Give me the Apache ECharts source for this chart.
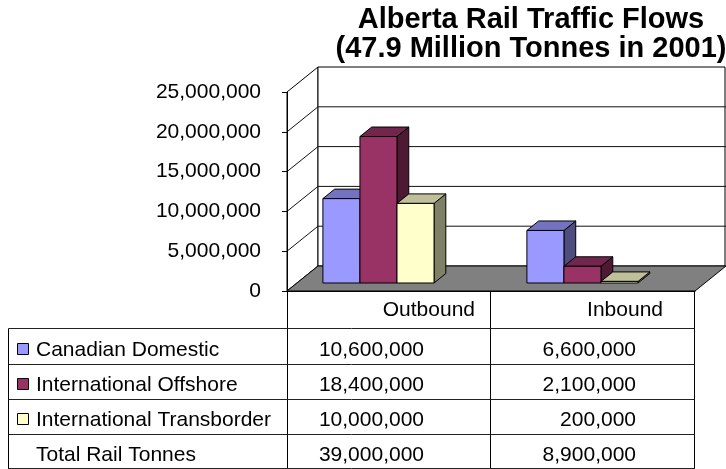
<!DOCTYPE html>
<html>
<head>
<meta charset="utf-8">
<script src="https://cdn.jsdelivr.net/npm/echarts@6/dist/echarts.min.js"></script>
<style>
  html, body { margin: 0; padding: 0; background: #fff; }
  #chart { width: 726px; height: 469px; }
</style>
</head>
<body>
<div id="chart"></div>
<script>
// Values
const categories = ['Outbound', 'Inbound']
const seriesNames = ['Canadian Domestic', 'International Offshore', 'International Transborder']
const canadianDomestic = [10600000, 6600000]
const internationalOffshore = [18400000, 2100000]
const internationalTransborder = [10000000, 200000]
const totalLabel = 'Total Rail Tonnes'
const totalRailTonnes = [39000000, 8900000]
const yMax = 25000000
const yInterval = 5000000

const seriesValues = [canadianDomestic, internationalOffshore, internationalTransborder]

// front / top / side colour of each series
const palette = [
  ['#9999FF', '#7373BF', '#4D4D80'],
  ['#993366', '#73264D', '#4D1A33'],
  ['#FFFFCC', '#BFBF99', '#808066']
]

const FONT = '"Liberation Sans", Arial, sans-serif'
const DX = 31, DY = -25   // depth of the 3d box
const GRID_LEFT = 287, GRID_RIGHT = 31, GRID_TOP = 92, GRID_BOTTOM = 178

const fmt = v => v.toLocaleString('en-US')

const chart = echarts.init(document.getElementById('chart'))

// walls, floor and gridlines
function renderFrame(params, api) {
  const cs = params.coordSys
  const x0 = cs.x, x1 = cs.x + cs.width
  const yTop = cs.y, y0 = cs.y + cs.height
  const children = []
  children.push({
    type: 'polygon',
    shape: { points: [[x0, y0], [x0, yTop], [x0 + DX, yTop + DY], [x0 + DX, y0 + DY]] },
    style: { fill: '#fff', stroke: '#000', lineWidth: 1 }
  })
  children.push({
    type: 'rect',
    shape: { x: x0 + DX, y: yTop + DY, width: cs.width - 1, height: cs.height },
    style: { fill: '#fff', stroke: '#000', lineWidth: 1 }
  })
  for (let v = yInterval; v < yMax; v += yInterval) {
    const y = api.coord([0, v])[1]
    children.push({
      type: 'polyline',
      shape: { points: [[x0, y], [x0 + DX, y + DY], [x1 + DX, y + DY]] },
      style: { fill: null, stroke: '#111', lineWidth: 1 }
    })
  }
  children.push({
    type: 'polygon',
    shape: { points: [[x0, y0], [x1, y0], [x1 + DX, y0 + DY], [x0 + DX, y0 + DY]] },
    style: { fill: '#808080', stroke: '#000', lineWidth: 1 }
  })
  return { type: 'group', children }
}

// one 3d column
function makeBarRender(s) {
  return function (params, api) {
    const cat = api.value(0)
    const val = api.value(1)
    const band = api.size([1, 0])[0]
    const base = api.coord([cat, 0])
    const top = api.coord([cat, val])
    const w = band * 0.1816
    const left = base[0] + band * (-0.324 + s * 0.1816)
    const yb = base[1] + DY * 0.32
    const yt = top[1] + DY * 0.32
    const bx = DX * 0.38, by = DY * 0.38
    const c = palette[s]
    const st = { stroke: '#000', lineWidth: 1 }
    return {
      type: 'group',
      children: [
        { type: 'polygon', shape: { points: [[left + w, yb], [left + w + bx, yb + by], [left + w + bx, yt + by], [left + w, yt]] },
          style: Object.assign({ fill: c[2] }, st) },
        { type: 'polygon', shape: { points: [[left, yt], [left + bx, yt + by], [left + w + bx, yt + by], [left + w, yt]] },
          style: Object.assign({ fill: c[1] }, st) },
        { type: 'rect', shape: { x: left, y: yt, width: w, height: yb - yt },
          style: Object.assign({ fill: c[0] }, st) }
      ]
    }
  }
}

// data table under the plot
const tableGraphics = []
const tLeft = 8.5, colX = [287.5, 490.5, 694.5]
const rowLines = [328.5, 364.5, 399.5, 434.5, 468.5]
const rowText = [350, 385, 420, 455]
const headRight = [475, 663]
const valueRight = [424, 636]
const line = (x1, y1, x2, y2, color) => ({
  type: 'line', shape: { x1, y1, x2, y2 }, style: { stroke: color || '#000', lineWidth: 1 }, z: 10
})
const text = (x, y, str, align) => ({
  type: 'text', x, y, z: 10,
  style: { text: str, font: '21px ' + FONT, fill: '#000', align: align || 'left', verticalAlign: 'middle' }
})
colX.forEach(x => tableGraphics.push(line(x, 291, x, 469)))
tableGraphics.push(line(tLeft, rowLines[0], tLeft, 469))
rowLines.forEach(y => tableGraphics.push(line(tLeft, y, colX[2], y, '#222')))
categories.forEach((c, i) => tableGraphics.push(text(headRight[i], 310, c, 'right')))
seriesNames.forEach((name, s) => {
  tableGraphics.push({
    type: 'rect', z: 10, shape: { x: 17.5, y: rowText[s] - 6.5, width: 11, height: 11 },
    style: { fill: palette[s][0], stroke: '#000', lineWidth: 1 }
  })
  tableGraphics.push(text(36, rowText[s], name))
  seriesValues[s].forEach((v, i) => tableGraphics.push(text(valueRight[i], rowText[s], fmt(v), 'right')))
})
tableGraphics.push(text(36, rowText[3], totalLabel))
totalRailTonnes.forEach((v, i) => tableGraphics.push(text(valueRight[i], rowText[3], fmt(v), 'right')))

chart.setOption({
  animation: false,
  backgroundColor: '#fff',
  title: {
    text: 'Alberta Rail Traffic Flows\n(47.9 Million Tonnes in 2001)',
    left: 526,
    top: 0,
    textAlign: 'center',
    textStyle: { fontFamily: FONT, fontSize: 29, fontWeight: 'bold', color: '#000', lineHeight: 29 }
  },
  grid: { left: GRID_LEFT, right: GRID_RIGHT, top: GRID_TOP, bottom: GRID_BOTTOM },
  xAxis: {
    type: 'category',
    data: categories,
    axisLine: { show: true, lineStyle: { color: '#000', width: 1 } },
    axisTick: { show: false },
    axisLabel: { show: false },
    z: 5
  },
  yAxis: {
    type: 'value',
    min: 0,
    max: yMax,
    interval: yInterval,
    axisLine: { show: true, lineStyle: { color: '#000', width: 1 } },
    axisTick: { show: true, length: 5, lineStyle: { color: '#000' } },
    axisLabel: { formatter: fmt, fontFamily: FONT, fontSize: 21, color: '#000', margin: 26 },
    splitLine: { show: false },
    z: 5
  },
  series: [
    {
      type: 'custom',
      name: 'frame',
      renderItem: renderFrame,
      data: [[0, 0]],
      z: 1,
      silent: true
    }
  ].concat(seriesNames.map((name, s) => ({
    type: 'custom',
    name,
    renderItem: makeBarRender(s),
    data: seriesValues[s].map((v, i) => [i, v]),
    z: 2 + s
  }))),
  graphic: tableGraphics
})

window.addEventListener('resize', () => chart.resize())
</script>
</body>
</html>
